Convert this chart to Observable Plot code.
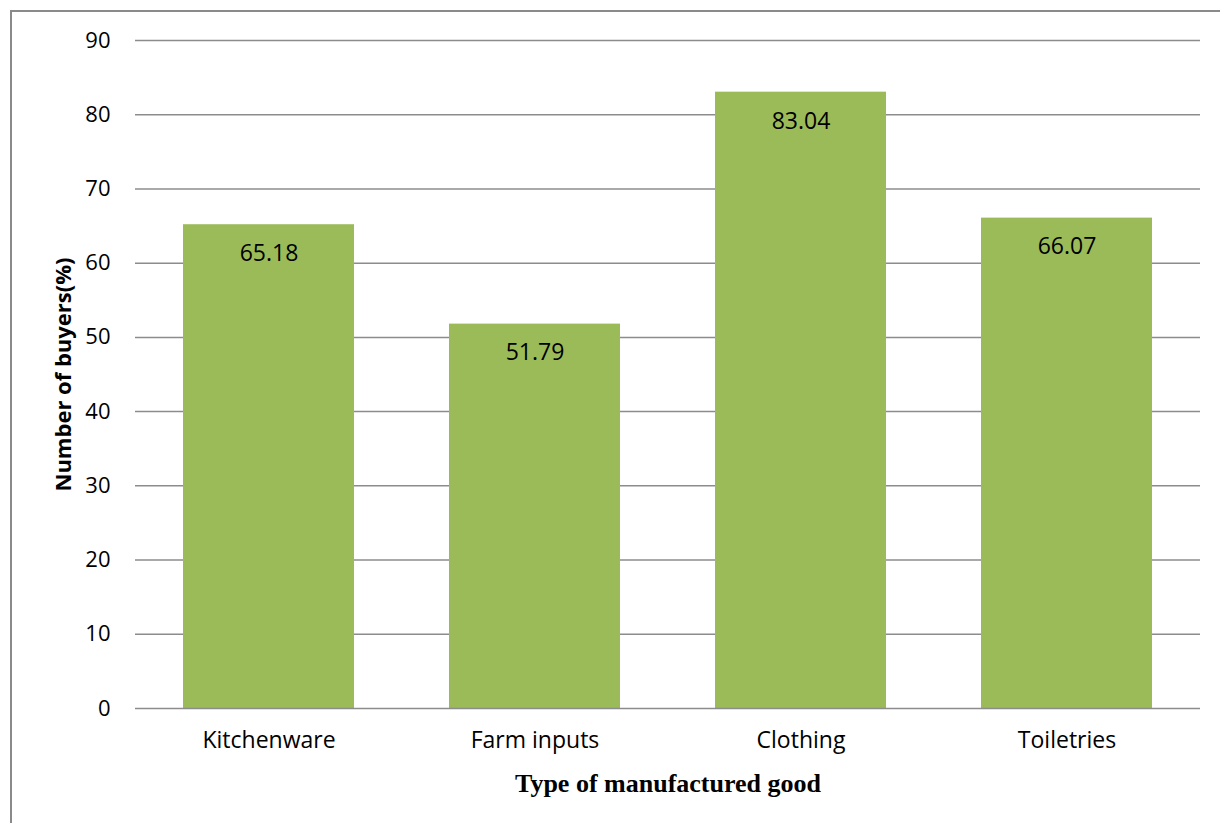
<!DOCTYPE html>
<html>
<head>
<meta charset="utf-8">
<script src="https://cdn.jsdelivr.net/npm/d3@7"></script>
<script src="https://cdn.jsdelivr.net/npm/@observablehq/plot@0.6"></script>
<style>
  html, body { margin: 0; padding: 0; background: #fff; }
  #wrap { position: relative; width: 1220px; height: 823px; overflow: hidden; }
  #edge { position: absolute; left: 10px; top: 10px; width: 1230px; height: 840px;
          border-left: 2px solid #8a8a8a; border-top: 2px solid #8a8a8a; box-sizing: border-box; }
  #chart { position: absolute; left: 0; top: 0; }
</style>
</head>
<body>
<div id="wrap"><div id="edge"></div><div id="chart"></div></div>
<script>
// Share of buyers by type of manufactured good
const categories = ["Kitchenware", "Farm inputs", "Clothing", "Toiletries"];
const buyers = [65.18, 51.79, 83.04, 66.07];
const yTicks = [0, 10, 20, 30, 40, 50, 60, 70, 80, 90];

const rows = categories.map((c, i) => ({ good: c, value: buyers[i] }));
const labelFont = "'Open Sans', Lato, sans-serif";

const chart = Plot.plot({
  width: 1220,
  height: 823,
  marginLeft: 135,
  marginRight: 20,
  marginTop: 40,
  marginBottom: 115,
  style: { fontFamily: labelFont, fontSize: "23px", color: "#000", background: "transparent" },
  x: { domain: categories, paddingInner: 0.357, paddingOuter: 0.1785, label: null },
  y: { domain: [0, 90], ticks: yTicks, label: null },
  marks: [
    Plot.gridY(yTicks.filter(t => t > 0), { stroke: "#8c8c8c", strokeOpacity: 1, strokeWidth: 1.5 }),
    Plot.barY(rows, { x: "good", y: "value", fill: "#9BBB59" }),
    Plot.ruleY([0], { stroke: "#8c8c8c", strokeWidth: 1.5 }),
    Plot.ruleX([0], { frameAnchor: "left", stroke: "#8c8c8c", strokeWidth: 1.5 }),
    Plot.axisY(yTicks, { tickSize: 0, tickPadding: 25, fontSize: 22, label: null }),
    Plot.axisX({ tickSize: 0, tickPadding: 23, fontSize: 23, label: null }),
    Plot.text(rows, {
      x: "good", y: "value", text: d => d.value.toFixed(2),
      dy: 29, fontSize: 23, fill: "#000"
    }),
    Plot.text(["Number of buyers(%)"], {
      frameAnchor: "left", textAnchor: "middle", lineAnchor: "middle",
      dx: -72, rotate: -90,
      fontSize: 22, fontWeight: "bold", fill: "#000"
    }),
    Plot.text(["Type of manufactured good"], {
      frameAnchor: "bottom", lineAnchor: "middle", dy: 75,
      fontSize: 26, fontWeight: "bold", fill: "#000",
      fontFamily: "'Liberation Serif', 'Times New Roman', serif"
    })
  ]
});

document.getElementById("chart").appendChild(chart);
</script>
</body>
</html>
